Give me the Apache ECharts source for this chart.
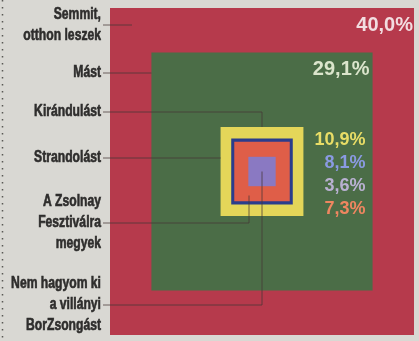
<!DOCTYPE html>
<html><head><meta charset="utf-8">
<script src="https://cdn.jsdelivr.net/npm/echarts@6/dist/echarts.min.js"></script>
<style>html,body{margin:0;padding:0;background:#d9d8d3}#c{width:419px;height:341px}</style>
</head><body><div id="c"></div>
<script>
// ---- data ----
const categories = ['Semmit,\notthon leszek', 'Mást', 'Kirándulást', 'Strandolást', 'A Zsolnay\nFesztiválra\nmegyek', 'Nem hagyom ki\na villányi\nBorZsongást'];
const values = [40.0, 29.1, 10.9, 8.1, 3.6, 7.3];
const valueLabels = ['40,0%', '29,1%', '10,9%', '8,1%', '3,6%', '7,3%'];

// ---- styles ----
const boxColors = ['#b63a4c', '#4b6d47', '#e4d659', '#2b3d8c', '#8a79c2', '#df5e48'];
const labelColors = ['#f2dde0', '#dbe5cc', '#e9dd66', '#8a9ae2', '#b9b1d2', '#ef8660'];
const leaderY = [25, 73, 112, 158, 223, 305];
const FONT_L = "'Liberation Sans','DejaVu Sans',sans-serif";
const FONT_V = "'Liberation Sans','DejaVu Sans',sans-serif";
const LINE_C = 'rgba(70,55,55,0.75)';

const order = values.map((v, i) => i).sort((a, b) => values[b] - values[a]);
const seriesData = order.map(i => [i, values[i]]);

const chart = echarts.init(document.getElementById('c'), null, {renderer: 'canvas'});

function box(api, v) {
  const p0 = api.coord([-v / 2, v / 2]);
  const p1 = api.coord([v / 2, -v / 2]);
  return {x0: p0[0], y0: p0[1], x1: p1[0], y1: p1[1]};
}

function renderItem(params, api) {
  const i = api.value(0);
  const v = api.value(1);
  const b = box(api, v);
  const c = api.coord([0, 0]);
  const children = [{
    type: 'rect',
    shape: {x: b.x0, y: b.y0, width: b.x1 - b.x0, height: b.y1 - b.y0},
    style: {fill: boxColors[i]}
  }];
  // value label
  let lx, ly, fs;
  if (i <= 1) {
    lx = b.x1 - (i === 0 ? 1 : 3);
    ly = b.y0 + 17;
    fs = 20;
  } else {
    const yb = box(api, values[2]);
    lx = yb.x1 + 62;
    ly = yb.y0 + 13 + (i - 2) * 23;
    fs = 18;
  }
  children.push({
    type: 'text',
    z2: 10,
    style: {text: valueLabels[i], x: lx, y: ly, align: 'right', verticalAlign: 'middle',
      fill: labelColors[i], font: 'bold ' + fs + 'px ' + FONT_V}
  });
  // category label (left)
  const y = leaderY[i];
  children.push({
    type: 'text',
    x: 101, y: y, scaleX: 0.76,
    style: {text: categories[i], x: 0, y: 0, align: 'right', verticalAlign: 'middle',
      fill: '#2e2d2c', font: 'bold 16px ' + FONT_L, lineHeight: 21,
      stroke: '#2e2d2c', lineWidth: 0.6}
  });
  // leader line
  let pts;
  const red = box(api, values[0]);
  const yel = box(api, values[2]);
  if (i === 0) pts = [[103, y], [red.x0 + 22, y]];
  else if (i === 1) pts = [[103, y], [b.x0, y]];
  else if (i === 2) pts = [[103, y], [c[0], y], [c[0], b.y0]];
  else if (i === 3) pts = [[103, y], [yel.x0, y]];
  else if (i === 4) pts = [[103, y], [c[0] - 13, y], [c[0] - 13, c[1] + 24]];
  else pts = [[103, y], [c[0], y], [c[0], c[1]]];
  children.push({
    type: 'polyline',
    z2: 20,
    shape: {points: pts},
    style: {stroke: LINE_C, lineWidth: 1, fill: null}
  });
  return {type: 'group', children: children};
}

chart.setOption({
  backgroundColor: '#d9d8d3',
  animation: false,
  grid: {left: 110, right: 5, top: 8, bottom: 6},
  xAxis: {type: 'value', min: -20, max: 20, show: false},
  yAxis: {type: 'value', min: -20, max: 20, show: false},
  graphic: [{
    type: 'line',
    shape: {x1: 2.5, y1: 0, x2: 2.5, y2: 341},
    style: {stroke: '#5a5855', lineWidth: 1.5, lineDash: [1.5, 5.5]}
  }],
  series: [{
    type: 'custom',
    renderItem: renderItem,
    clip: false,
    encode: {x: -1, y: -1},
    data: seriesData
  }]
});
</script>
</body></html>
